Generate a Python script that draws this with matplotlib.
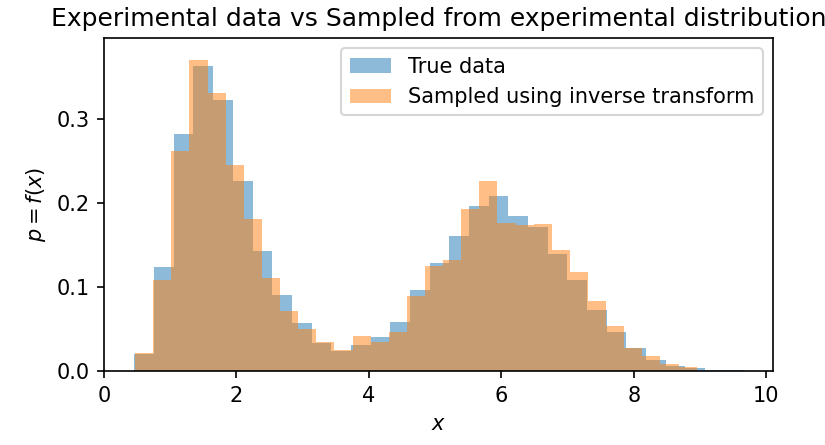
import numpy as np
import matplotlib.pyplot as plt

# bin heights (density)
true_start, true_width = 0.46, 0.297
true_heights = [0.020, 0.124, 0.283, 0.363, 0.323, 0.227, 0.143, 0.091, 0.057, 0.033,
                0.024, 0.031, 0.041, 0.058, 0.097, 0.129, 0.161, 0.197, 0.209, 0.185,
                0.172, 0.140, 0.109, 0.073, 0.047, 0.027, 0.013, 0.006, 0.004, 0.001, 0.001]
samp_start, samp_width = 0.47, 0.2735
samp_heights = [0.021, 0.108, 0.262, 0.371, 0.331, 0.245, 0.181, 0.111, 0.071, 0.050,
                0.035, 0.025, 0.042, 0.035, 0.047, 0.089, 0.125, 0.132, 0.193, 0.227,
                0.177, 0.174, 0.175, 0.144, 0.118, 0.083, 0.054, 0.027, 0.018, 0.008, 0.005]

def edges(start, width, n):
    return start + width * np.arange(n + 1)

fig = plt.figure(figsize=(5.5, 2.967), dpi=150)
ax = fig.add_axes([104 / 825, 1 - 371 / 445, (773 - 104) / 825, (371 - 38) / 445])

e1 = edges(true_start, true_width, len(true_heights))
e2 = edges(samp_start, samp_width, len(samp_heights))
ax.hist((e1[:-1] + e1[1:]) / 2, bins=e1, weights=true_heights, alpha=0.5, label='True data')
ax.hist((e2[:-1] + e2[1:]) / 2, bins=e2, weights=samp_heights, alpha=0.5,
        label='Sampled using inverse transform')

ax.set_xlim(0, 10.1)
ax.set_ylim(0, 0.397)
ax.set_xlabel('$x$')
ax.set_ylabel('$p=f(x)$')
ax.set_title('Experimental data vs Sampled from experimental distribution')
ax.legend(loc='upper right')
fig.savefig('out.png')
